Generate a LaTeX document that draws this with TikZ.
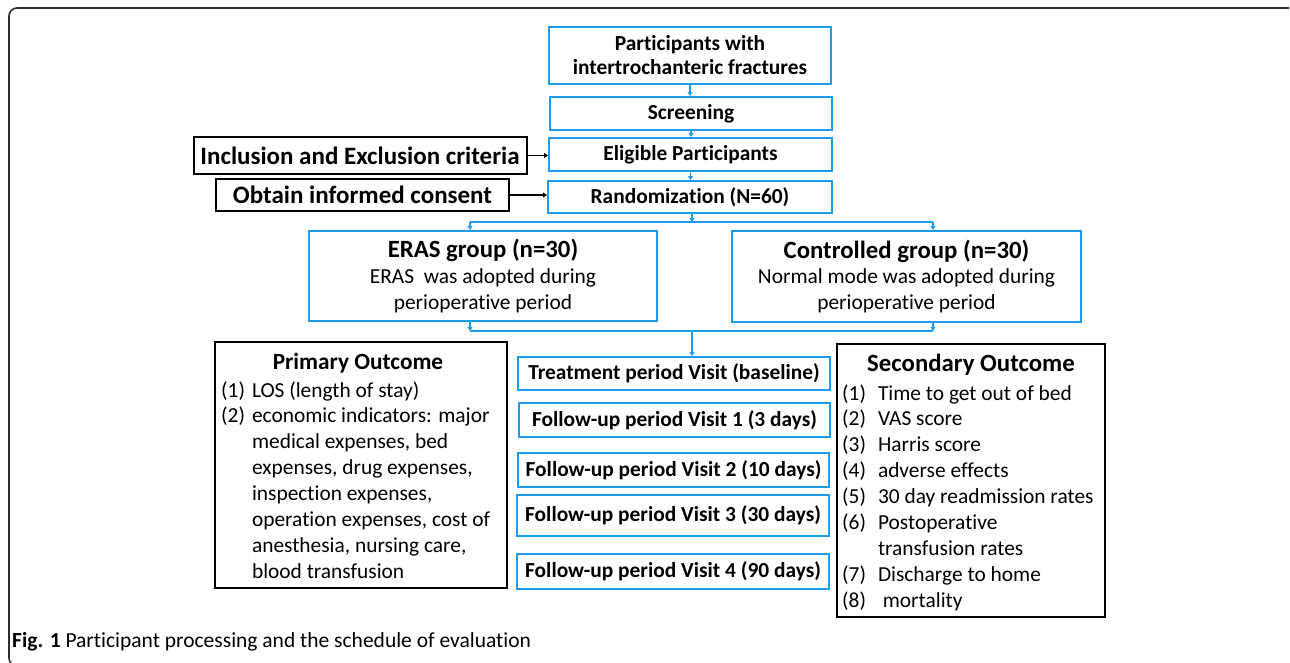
\documentclass[tikz,border=0pt]{standalone}
\usepackage{fontspec}
\setmainfont{Carlito}[Ligatures={NoCommon}]
\usetikzlibrary{arrows.meta}
\definecolor{boxblue}{RGB}{28,156,234}
\definecolor{framegray}{RGB}{45,45,45}
\newcommand\myB{\fontsize{21.4}{24}\selectfont\bfseries}
\newcommand\myR{\fontsize{21.4}{25.9}\selectfont}
\newcommand\myT{\fontsize{24.8}{28}\selectfont\bfseries}
\newcommand\myP{\fontsize{23.3}{28}\selectfont\bfseries}
\newcommand\myL{\fontsize{25}{28}\selectfont\bfseries}
\begin{document}
\begin{tikzpicture}[x=1pt,y=-1pt,
  bluebox/.style={draw=boxblue, line width=2pt, inner sep=0pt, align=center, font=\myB},
  blackbox/.style={draw=black, line width=2pt, inner sep=0pt, align=center},
  conn/.style={draw=boxblue, line width=1.5pt},
  blk/.style={draw=black, line width=1.5pt},
  arr/.style={-{Triangle[width=5pt,length=4pt]}},
  txt/.style={inner sep=0pt}]
\useasboundingbox (0,0) rectangle (1290,662);
% frame
\draw[framegray, line width=1.6pt, rounded corners=8pt] (1289,8) -- (9,8) -- (9,666) -- (40,666);
% top column
\node[bluebox, minimum width=282, minimum height=57] (p1) at (690,55.5) {Participants with\\intertrochanteric fractures};
\node[bluebox, minimum width=282, minimum height=33] (scr) at (691,113.5) {Screening};
\node[bluebox, minimum width=283, minimum height=33] (elig) at (690.5,154.5) {Eligible Participants};
\node[bluebox, minimum width=284, minimum height=32] (rand) at (690,197) {Randomization (N=60)};
% left boxes
\node[blackbox, minimum width=333, minimum height=37, font=\myL] (inc) at (360,155.5) {Inclusion and Exclusion criteria};
\node[blackbox, minimum width=293, minimum height=32, font=\myL] (cons) at (362.5,195) {Obtain informed consent};
% groups
\node[bluebox, minimum width=348, minimum height=90, font=\myR] (eras) at (483,276) {{\myT ERAS group (n=30)}\\ERAS\ \ was adopted during\\perioperative period};
\node[bluebox, minimum width=349, minimum height=91, font=\myR] (ctrl) at (906.5,276.5) {{\myT Controlled group (n=30)}\\Normal mode was adopted during\\perioperative period};
% visits
\node[bluebox, minimum width=312, minimum height=33] (treat) at (674,373.5) {Treatment period Visit (baseline)};
\node[bluebox, minimum width=311, minimum height=34] (fu1) at (674.5,420) {Follow-up period Visit 1 (3 days)};
\node[bluebox, minimum width=311, minimum height=34] (fu2) at (673.5,470) {Follow-up period Visit 2 (10 days)};
\node[bluebox, minimum width=312, minimum height=41] (fu3) at (673,515.5) {Follow-up period Visit 3 (30 days)};
\node[bluebox, minimum width=312, minimum height=35] (fu4) at (673,571.5) {Follow-up period Visit 4 (90 days)};
% outcomes
\node[blackbox, minimum width=292, minimum height=246] (prim) at (361,465) {};
\node[txt, anchor=base, font=\myP] (primt) at (358,369) {Primary Outcome};
\node[txt, anchor=base west, font=\myR] (primi) at (221,397) {\begin{tabular}[t]{@{}l@{\hspace{7pt}}l@{}}
(1) & LOS (length of stay)\\
(2) & economic indicators: major\\
 & medical expenses, bed\\
 & expenses, drug expenses,\\
 & inspection expenses,\\
 & operation expenses, cost of\\
 & anesthesia, nursing care,\\
 & blood transfusion
\end{tabular}};
\node[blackbox, minimum width=268, minimum height=273] (sec) at (971,480.5) {};
\node[txt, anchor=base, font=\myT] (sect) at (971,371) {Secondary Outcome};
\node[txt, anchor=base west, font=\myR] (seci) at (842,400) {\begin{tabular}[t]{@{}l@{\hspace{12pt}}l@{}}
(1) & Time to get out of bed\\
(2) & VAS score\\
(3) & Harris score\\
(4) & adverse effects\\
(5) & 30 day readmission rates\\
(6) & Postoperative\\
 & transfusion rates\\
(7) & Discharge to home\\
(8) & \ mortality
\end{tabular}};
% connectors
\draw[conn,arr] (p1.south) -- (p1.south |- scr.north);
\draw[conn,arr] (scr.south) -- (scr.south |- elig.north);
\draw[conn,arr] (elig.south) -- (elig.south |- rand.north);
\draw[blk,arr] (inc.east) -- (inc.east -| elig.west);
\draw[blk,arr] (cons.east) -- (cons.east -| rand.west);
\coordinate (js) at (692,222);
\coordinate (jl) at (470,222);
\coordinate (jr) at (933,222);
\draw[conn,arr] (rand.south -| js) -- (js);
\draw[conn] (jl) -- (jr);
\draw[conn,arr] (jl) -- (jl |- eras.north);
\draw[conn,arr] (jr) -- (jr |- ctrl.north);
\coordinate (bl) at (470,331);
\coordinate (br) at (933,331);
\coordinate (bm) at (692,331);
\draw[conn,arr] (bl |- eras.south) -- (bl);
\draw[conn,arr] (br |- ctrl.south) -- (br);
\draw[conn] (bl) -- (br);
\draw[conn,arr] (bm) -- (bm |- treat.north);
% caption
\node[txt, anchor=base west, font=\fontsize{21.5}{24}\selectfont] (cap) at (12,647) {\textbf{Fig. 1} Participant processing and the schedule of evaluation};
\end{tikzpicture}
\end{document}
